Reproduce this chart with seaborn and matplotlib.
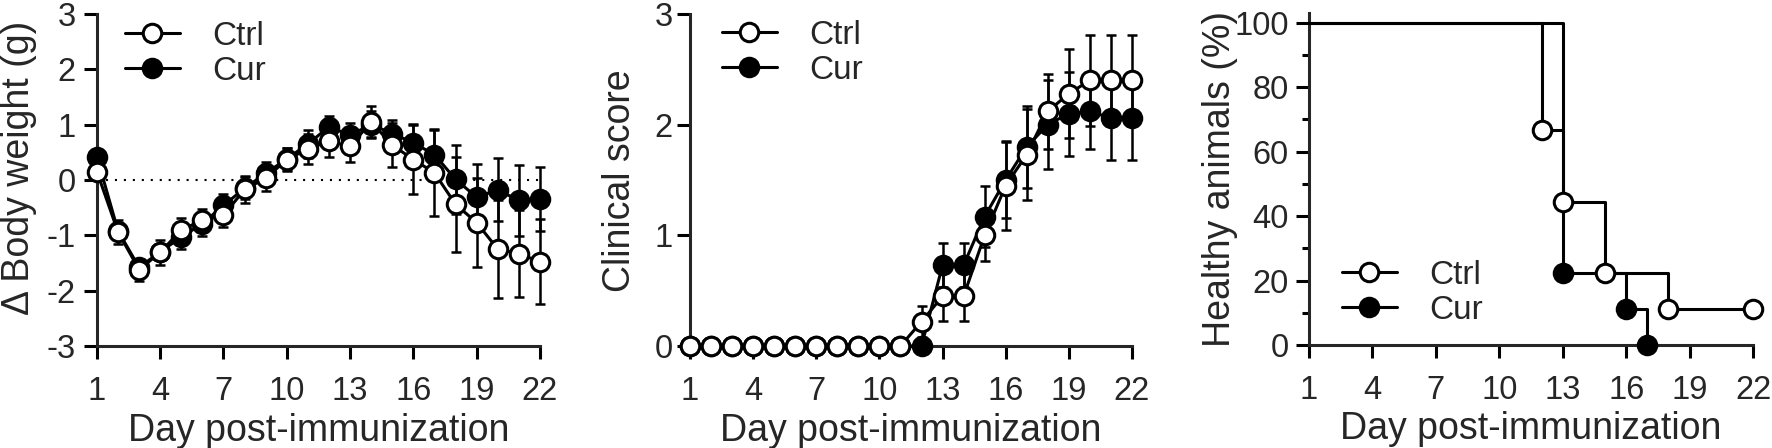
import numpy as np
import pandas as pd
import matplotlib
matplotlib.use("Agg")
import matplotlib.pyplot as plt
from matplotlib.lines import Line2D
from matplotlib.ticker import MultipleLocator
import seaborn as sns

# days post-immunization
days = [1, 2, 3, 4, 5, 6, 7, 8, 9, 10, 11, 12, 13, 14, 15, 16, 17, 18, 19, 20, 21, 22]

# body weight change (g), mean and SEM
ctrl_bw = [0.15, -0.94, -1.62, -1.31, -0.90, -0.73, -0.64, -0.17, 0.03, 0.37, 0.56,
           0.70, 0.61, 1.05, 0.63, 0.37, 0.13, -0.44, -0.77, -1.25, -1.33, -1.48]
ctrl_bw_sem = [0.05, 0.22, 0.20, 0.23, 0.22, 0.20, 0.21, 0.25, 0.23, 0.20, 0.27,
               0.28, 0.28, 0.28, 0.40, 0.62, 0.78, 0.86, 0.81, 0.88, 0.78, 0.77]
cur_bw = [0.42, -0.92, -1.58, -1.30, -1.03, -0.79, -0.46, -0.15, 0.12, 0.38, 0.65,
          0.96, 0.81, 1.00, 0.84, 0.67, 0.46, 0.01, -0.31, -0.18, -0.37, -0.34]
cur_bw_sem = [0.05, 0.15, 0.15, 0.15, 0.21, 0.22, 0.20, 0.20, 0.20, 0.20, 0.25,
              0.20, 0.22, 0.25, 0.25, 0.35, 0.46, 0.62, 0.60, 0.57, 0.64, 0.58]

# clinical score, mean and SEM
ctrl_cs = [0, 0, 0, 0, 0, 0, 0, 0, 0, 0, 0,
           0.22, 0.45, 0.45, 1.00, 1.45, 1.73, 2.12, 2.28, 2.40, 2.40, 2.40]
ctrl_cs_sem = [0, 0, 0, 0, 0, 0, 0, 0, 0, 0, 0,
               0.14, 0.22, 0.22, 0.23, 0.40, 0.41, 0.34, 0.40, 0.41, 0.41, 0.41]
cur_cs = [0, 0, 0, 0, 0, 0, 0, 0, 0, 0, 0,
          0, 0.73, 0.73, 1.17, 1.50, 1.80, 2.00, 2.10, 2.12, 2.06, 2.06]
cur_cs_sem = [0, 0, 0, 0, 0, 0, 0, 0, 0, 0, 0,
              0, 0.20, 0.20, 0.28, 0.34, 0.37, 0.40, 0.38, 0.34, 0.38, 0.38]

# healthy animals (%), Kaplan-Meier steps
ctrl_km_days = [1, 12, 13, 15, 18, 22]
ctrl_km_pct = [100, 66.7, 44.4, 22.2, 11.1, 11.1]
cur_km_days = [1, 13, 16, 17]
cur_km_pct = [100, 22.2, 11.1, 0]

day_ticks = [1, 4, 7, 10, 13, 16, 19, 22]
groups = ["Ctrl", "Cur"]

sns.set_style("ticks")
plt.rcParams["font.family"] = ["Liberation Sans", "DejaVu Sans"]
plt.rcParams["axes.unicode_minus"] = False

LW = 2.2
MS = 13.3
TICK_FS = 23.5
LABEL_FS = 27
LEG_FS = 24


def style_axis(ax, ypad):
    sns.despine(ax=ax)
    for side in ["left", "bottom"]:
        ax.spines[side].set_linewidth(LW)
    ax.tick_params(axis="both", which="major", direction="out", length=9.5,
                   width=LW, labelsize=TICK_FS, color="black")
    ax.tick_params(axis="x", pad=12)
    ax.tick_params(axis="y", pad=ypad)
    ax.set_xlim(1, 22)
    ax.set_xticks(day_ticks)


def draw_series(ax, y, err, face):
    ax.errorbar(days, y, yerr=err, fmt="none", ecolor="black", elinewidth=1.8,
                capsize=3.4, capthick=1.8, zorder=3, clip_on=False)
    sns.lineplot(x=days, y=y, ax=ax, color="black", lw=LW, marker="o",
                 markersize=MS, markerfacecolor=face, markeredgecolor="black",
                 markeredgewidth=LW, zorder=4, clip_on=False, errorbar=None,
                 legend=False)


def add_legend(ax, x, y):
    handles = [
        Line2D([], [], color="black", lw=LW, marker="o", markersize=MS,
               markerfacecolor=face, markeredgecolor="black", markeredgewidth=LW)
        for face in ["white", "black"]
    ]
    ax.legend(handles, groups, loc="upper left", bbox_to_anchor=(x, y),
              frameon=False, fontsize=LEG_FS, handlelength=1.65,
              handletextpad=0.96, labelspacing=0.12, borderpad=0,
              borderaxespad=0)


fig = plt.figure(figsize=(17.72, 4.48), dpi=100)
ax1 = fig.add_axes([0.0547, 0.2277, 0.25, 0.7411])
ax2 = fig.add_axes([0.3894, 0.2277, 0.2494, 0.7411])
ax3 = fig.add_axes([0.7387, 0.2299, 0.2506, 0.7411])

# panel 1: body weight
ax1.axhline(0, color="black", lw=1.5, ls=(0, (1, 3.3)), zorder=1)
draw_series(ax1, cur_bw, cur_bw_sem, "black")
draw_series(ax1, ctrl_bw, ctrl_bw_sem, "white")
style_axis(ax1, 6)
ax1.set_ylim(-3, 3)
ax1.set_yticks([-3, -2, -1, 0, 1, 2, 3])
ax1.set_ylabel("\u0394 Body weight (g)", fontsize=LABEL_FS)
ax1.set_xlabel("Day post-immunization", fontsize=LABEL_FS)
ax1.yaxis.set_label_coords(-0.135, 0.536)
ax1.xaxis.set_label_coords(0.5, -0.202)
add_legend(ax1, 0.063, 0.979)

# panel 2: clinical score
draw_series(ax2, cur_cs, cur_cs_sem, "black")
draw_series(ax2, ctrl_cs, ctrl_cs_sem, "white")
style_axis(ax2, 3)
ax2.set_ylim(0, 3)
ax2.set_yticks([0, 1, 2, 3])
ax2.set_ylabel("Clinical score", fontsize=LABEL_FS)
ax2.set_xlabel("Day post-immunization", fontsize=LABEL_FS)
ax2.yaxis.set_label_coords(-0.118, 0.497)
ax2.xaxis.set_label_coords(0.5, -0.202)
add_legend(ax2, 0.072, 0.982)

# panel 3: healthy animals
for kd, kp, face in [(cur_km_days, cur_km_pct, "black"),
                     (ctrl_km_days, ctrl_km_pct, "white")]:
    sns.lineplot(x=kd, y=kp, ax=ax3, color="black", lw=LW,
                 drawstyle="steps-post", zorder=3, clip_on=False,
                 errorbar=None, legend=False)
    ax3.plot(kd[1:], kp[1:], ls="none", marker="o", markersize=MS,
             markerfacecolor=face, markeredgecolor="black",
             markeredgewidth=LW, zorder=4, clip_on=False)
style_axis(ax3, 5)
ax3.set_ylim(0, 103)
ax3.set_yticks([0, 20, 40, 60, 80, 100])
ax3.yaxis.set_minor_locator(MultipleLocator(10))
ax3.tick_params(axis="y", which="minor", direction="out", length=5,
                width=LW, color="black")
ax3.set_ylabel("Healthy animals (%)", fontsize=LABEL_FS)
ax3.set_xlabel("Day post-immunization", fontsize=LABEL_FS)
ax3.yaxis.set_label_coords(-0.160, 0.5)
ax3.xaxis.set_label_coords(0.5, -0.198)
add_legend(ax3, 0.074, 0.256)

fig.savefig("out.png", dpi=100)
